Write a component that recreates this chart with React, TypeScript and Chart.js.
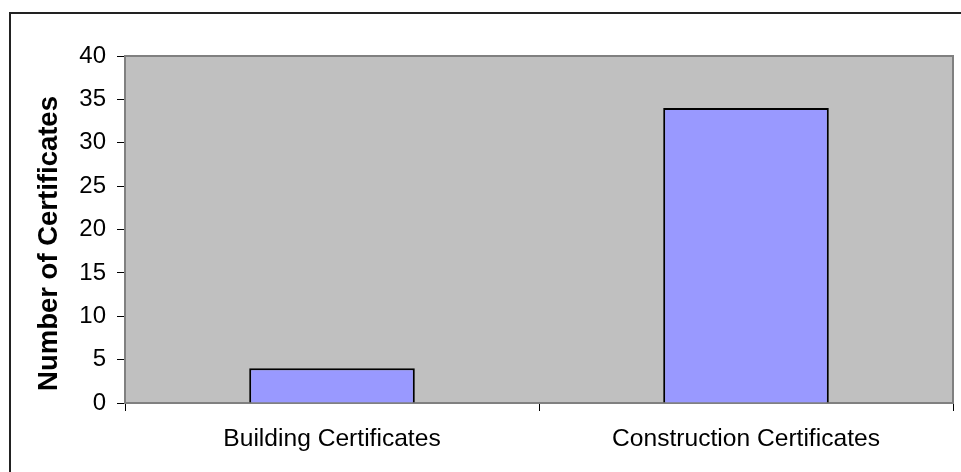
import React, { useEffect, useRef } from "react";
import { Chart, registerables } from "chart.js";

Chart.register(...registerables);

const categories = ["Building Certificates", "Construction Certificates"];
const certificateCounts = [4, 34];
const yTitle = "Number of Certificates";
const yMin = 0;
const yMax = 40;
const yStep = 5;

const FONT = "'Liberation Sans', Arial, sans-serif";

const plotBackground = {
  id: "plotBackground",
  beforeDraw(chart: any) {
    const { ctx, chartArea } = chart;
    const { left, top, right, bottom } = chartArea;
    ctx.save();
    ctx.fillStyle = "#C0C0C0";
    ctx.fillRect(left, top, right - left, bottom - top);
    ctx.strokeStyle = "#808080";
    ctx.lineWidth = 2;
    ctx.strokeRect(left, top, right - left, bottom - top);
    ctx.restore();
  },
};

// Y axis title, placed like the reference (slightly below the plot centre)
const yAxisTitle = {
  id: "yAxisTitle",
  afterDraw(chart: any) {
    const { ctx, chartArea } = chart;
    const cy = (chartArea.top + chartArea.bottom) / 2 + 14;
    ctx.save();
    ctx.translate(49, cy);
    ctx.rotate(-Math.PI / 2);
    ctx.font = `bold 27.5px ${FONT}`;
    ctx.fillStyle = "#000000";
    ctx.textAlign = "center";
    ctx.textBaseline = "middle";
    ctx.fillText(yTitle, 0, 0);
    ctx.restore();
  },
};

export default function App() {
  const canvasRef = useRef<HTMLCanvasElement>(null);

  useEffect(() => {
    if (!canvasRef.current) return;
    const chart = new Chart(canvasRef.current, {
      type: "bar",
      data: {
        labels: categories,
        datasets: [
          {
            data: certificateCounts,
            backgroundColor: "#9999FF",
            borderColor: "#000000",
            borderWidth: 2,
            categoryPercentage: 1,
            barPercentage: 0.4,
          },
        ],
      },
      options: {
        responsive: false,
        animation: false,
        layout: { padding: { left: 0, top: 56, right: 8, bottom: 0 } },
        plugins: {
          legend: { display: false },
          tooltip: { enabled: false },
        },
        scales: {
          x: {
            offset: true,
            grid: {
              display: true,
              offset: true,
              drawOnChartArea: false,
              color: "#000000",
              tickLength: 8,
            },
            border: { display: true, color: "#808080", width: 2 },
            ticks: {
              color: "#000000",
              padding: 13,
              font: { family: FONT, size: 24.6 },
              maxRotation: 0,
            },
            afterFit(scale: any) {
              scale.height = 69;
            },
          },
          y: {
            min: yMin,
            max: yMax,
            grid: {
              display: true,
              drawOnChartArea: false,
              color: "#000000",
              tickLength: 8,
            },
            border: { display: true, color: "#808080", width: 2 },
            ticks: {
              stepSize: yStep,
              color: "#000000",
              padding: 11,
              font: { family: FONT, size: 24 },
            },
            afterFit(scale: any) {
              scale.width = 125;
            },
          },
        },
      },
      plugins: [plotBackground, yAxisTitle],
    });
    return () => chart.destroy();
  }, []);

  return (
    <div
      style={{
        position: "fixed",
        left: 0,
        top: 0,
        width: 961,
        height: 472,
        overflow: "hidden",
        background: "#FFFFFF",
      }}
    >
      <canvas ref={canvasRef} width={961} height={472} style={{ display: "block" }} />
      <div
        style={{
          position: "absolute",
          left: 9,
          top: 12,
          width: 2000,
          height: 2000,
          borderLeft: "2px solid #222222",
          borderTop: "2px solid #222222",
          pointerEvents: "none",
        }}
      />
    </div>
  );
}
